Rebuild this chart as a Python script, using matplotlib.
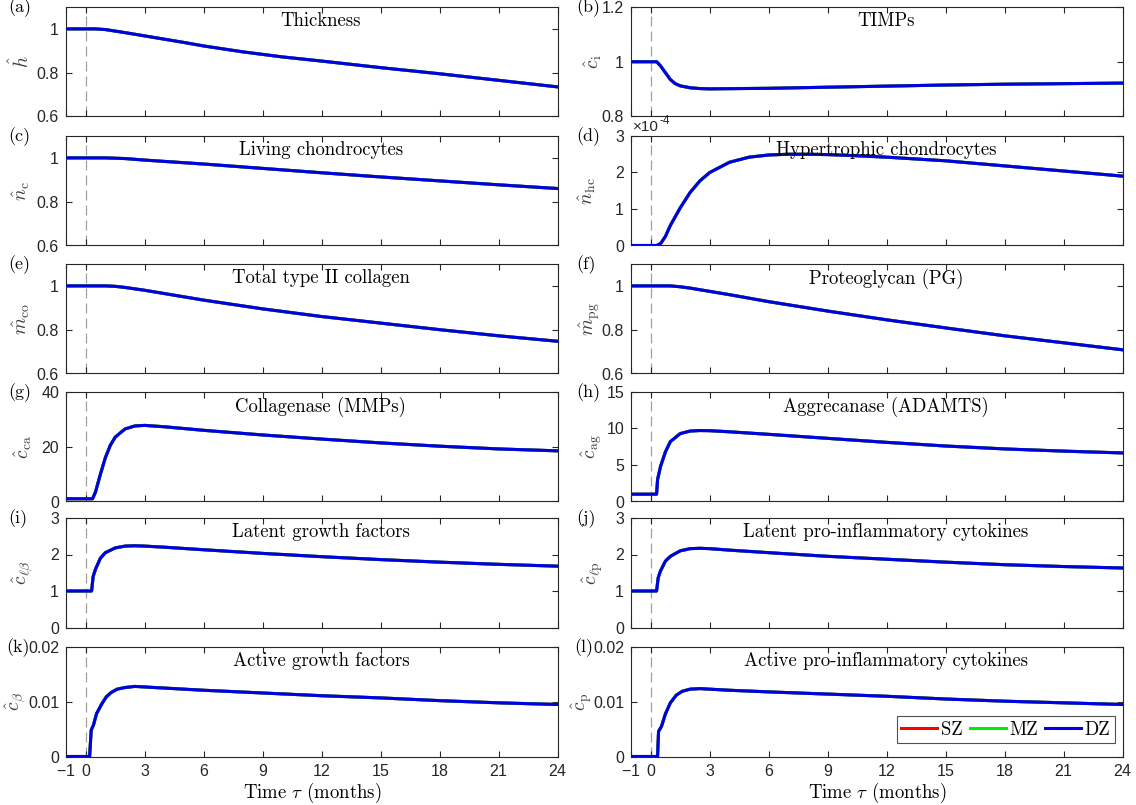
import matplotlib
matplotlib.use("Agg")
import matplotlib.pyplot as plt
from matplotlib.ticker import FixedLocator, FormatStrFormatter

plt.rcParams['font.family'] = ['Liberation Sans', 'DejaVu Sans']
plt.rcParams['mathtext.fontset'] = 'cm'
plt.rcParams['axes.unicode_minus'] = False
plt.rcParams['axes.formatter.use_mathtext'] = True

# ---------------- data ----------------
zones = ['SZ', 'MZ', 'DZ']
zone_colors = ['#ff0000', '#00ee00', '#0000e6']

t_a = [-1, 0, 0.5, 1, 1.5, 2, 3, 4, 5, 6, 8, 10, 12, 15, 18, 21, 24]
thickness = [1, 1, 1, 0.997, 0.99, 0.983, 0.968, 0.953, 0.938, 0.922, 0.895, 0.872, 0.853, 0.823, 0.795, 0.765, 0.735]

t_b = [-1, 0, 0.3, 0.5, 0.75, 1, 1.25, 1.5, 2, 2.5, 3, 6, 9, 12, 15, 18, 21, 24]
timps = [1, 1, 1, 0.985, 0.96, 0.935, 0.92, 0.912, 0.905, 0.902, 0.901, 0.903, 0.907, 0.911, 0.915, 0.918, 0.92, 0.922]

t_c = [-1, 0, 0.5, 1, 2, 3, 6, 9, 12, 15, 18, 21, 24]
living = [1, 1, 1, 1, 0.997, 0.99, 0.972, 0.952, 0.932, 0.913, 0.895, 0.877, 0.86]

t_d = [-1, 0, 0.3, 0.5, 0.75, 1, 1.5, 2, 2.5, 3, 4, 5, 6, 7, 8, 9, 10, 12, 15, 18, 21, 24]
hypertrophic = [0, 0, 0, 0.05, 0.25, 0.55, 1.03, 1.45, 1.77, 2.0, 2.28, 2.42, 2.48, 2.5, 2.5, 2.49, 2.47, 2.42, 2.32, 2.18, 2.04, 1.9]  # x 1e-4

t_ef = [-1, 0, 0.5, 1, 1.5, 2, 3, 4, 6, 9, 12, 15, 18, 21, 24]
collagen = [1, 1, 1, 1, 0.998, 0.993, 0.98, 0.965, 0.935, 0.895, 0.86, 0.83, 0.8, 0.772, 0.747]
proteoglycan = [1, 1, 1, 1, 0.996, 0.99, 0.975, 0.96, 0.928, 0.885, 0.845, 0.808, 0.772, 0.74, 0.708]

t_g = [-1, 0, 0.35, 0.5, 0.75, 1, 1.25, 1.5, 2, 2.5, 3, 4, 6, 9, 12, 15, 18, 21, 24]
collagenase = [1, 1, 1, 3.5, 10, 16, 20.5, 23.5, 26.5, 27.6, 27.8, 27.3, 26, 24.3, 22.8, 21.4, 20.2, 19.2, 18.5]

t_h = [-1, 0, 0.3, 0.35, 0.5, 0.75, 1, 1.5, 2, 2.5, 3, 4, 6, 9, 12, 15, 18, 21, 24]
aggrecanase = [1, 1, 1, 3.0, 4.8, 6.8, 8.2, 9.3, 9.65, 9.72, 9.7, 9.55, 9.2, 8.65, 8.1, 7.6, 7.2, 6.9, 6.65]

t_ij = [-1, 0, 0.3, 0.38, 0.5, 0.75, 1, 1.5, 2, 2.5, 3, 4, 6, 9, 12, 15, 18, 21, 24]
latent_gf = [1, 1, 1, 1.4, 1.6, 1.9, 2.05, 2.18, 2.23, 2.24, 2.23, 2.2, 2.13, 2.03, 1.94, 1.86, 1.79, 1.73, 1.68]
latent_pic = [1, 1, 1, 1.36, 1.55, 1.82, 1.95, 2.1, 2.16, 2.17, 2.16, 2.12, 2.05, 1.95, 1.87, 1.79, 1.72, 1.67, 1.63]

t_k = [-1, 0, 0.2, 0.28, 0.4, 0.55, 0.8, 1.05, 1.3, 1.6, 2, 2.5, 3, 4, 6, 9, 12, 15, 18, 21, 24]
active_gf = [0, 0, 0, 0.0048, 0.0058, 0.0078, 0.0095, 0.0109, 0.0117, 0.0123, 0.0126, 0.0128, 0.0127, 0.0125, 0.0121, 0.0116, 0.0111, 0.0107, 0.0102, 0.0098, 0.0095]

t_l = [-1, 0, 0.35, 0.4, 0.55, 0.75, 1, 1.3, 1.6, 2, 2.5, 3, 4, 6, 9, 12, 15, 18, 21, 24]
active_pic = [0, 0, 0, 0.0046, 0.0055, 0.0078, 0.0098, 0.0112, 0.0119, 0.0123, 0.0124, 0.0123, 0.0121, 0.0118, 0.0114, 0.011, 0.0105, 0.0101, 0.0098, 0.0095]

titles = ['Thickness', 'TIMPs', 'Living chondrocytes', 'Hypertrophic chondrocytes',
          'Total type II collagen', 'Proteoglycan (PG)', 'Collagenase (MMPs)',
          'Aggrecanase (ADAMTS)', 'Latent growth factors',
          'Latent pro-inflammatory cytokines', 'Active growth factors',
          'Active pro-inflammatory cytokines']
ylabels = [r'$\hat{h}$', r'$\hat{c}_{\mathrm{i}}$', r'$\hat{n}_{\mathrm{c}}$', r'$\hat{n}_{\mathrm{hc}}$',
           r'$\hat{m}_{\mathrm{co}}$', r'$\hat{m}_{\mathrm{pg}}$', r'$\hat{c}_{\mathrm{ca}}$',
           r'$\hat{c}_{\mathrm{ag}}$', r'$\hat{c}_{\ell\beta}$', r'$\hat{c}_{\ell\mathrm{p}}$',
           r'$\hat{c}_{\beta}$', r'$\hat{c}_{\mathrm{p}}$']
panel_letters = ['(a)', '(b)', '(c)', '(d)', '(e)', '(f)', '(g)', '(h)', '(i)', '(j)', '(k)', '(l)']
series_t = [t_a, t_b, t_c, t_d, t_ef, t_ef, t_g, t_h, t_ij, t_ij, t_k, t_l]
series_v = [thickness, timps, living, hypertrophic, collagen, proteoglycan,
            collagenase, aggrecanase, latent_gf, latent_pic, active_gf, active_pic]
ylims = [(0.6, 1.1), (0.8, 1.2), (0.6, 1.1), (0, 3), (0.6, 1.1), (0.6, 1.1),
         (0, 40), (0, 15), (0, 3), (0, 3), (0, 0.02), (0, 0.02)]
yticks = [[0.6, 0.8, 1], [0.8, 1, 1.2], [0.6, 0.8, 1], [0, 1, 2, 3], [0.6, 0.8, 1], [0.6, 0.8, 1],
          [0, 20, 40], [0, 5, 10, 15], [0, 1, 2, 3], [0, 1, 2, 3], [0, 0.01, 0.02], [0, 0.01, 0.02]]
yfmts = ['%g'] * 12
xticks = [-1, 0, 3, 6, 9, 12, 15, 18, 21, 24]
xlim = (-1, 24)

# ---------------- layout (pixels) ----------------
W, H = 1136, 805
fig = plt.figure(figsize=(W / 100, H / 100), dpi=100)
col_x0 = [66, 631]
col_w = [492, 492]
row_top = [7, 136, 264, 392, 518, 647]
row_h = 109.5
ylabel_xc = [21, 593, 21, 587, 21, 590, 23, 592, 23, 593, 16, 582]
letter_x = [8, 576]
dark = '#262626'

axes = []
for i in range(12):
    r, c = divmod(i, 2)
    x0 = col_x0[c]
    w = col_w[c]
    top = row_top[r]
    ax = fig.add_axes([x0 / W, 1 - (top + row_h) / H, w / W, row_h / H])
    axes.append(ax)
    ax.axvline(0, color='#a0a0a0', lw=0.9, ls=(0, (8, 4)), zorder=1)
    for z, col in zip(zones, zone_colors):
        ax.plot(series_t[i], series_v[i], color=col, lw=2.2, label=z, zorder=3)
    ax.set_xlim(*xlim)
    ax.set_ylim(*ylims[i])
    ax.xaxis.set_major_locator(FixedLocator(xticks))
    ax.yaxis.set_major_locator(FixedLocator(yticks[i]))
    ax.yaxis.set_major_formatter(FormatStrFormatter(yfmts[i]))
    ax.tick_params(direction='in', top=True, right=True, length=4, width=0.8,
                   colors=dark, labelsize=11.5, pad=5)
    ax.tick_params(axis='x', pad=5)
    if r < 5:
        ax.tick_params(labelbottom=False)
    for s in ax.spines.values():
        s.set_color(dark)
        s.set_linewidth(0.8)
    ax.text(0.518, 0.955, titles[i], transform=ax.transAxes, ha='center', va='top',
            fontsize=13.5, fontfamily='cmr10', color='black')
    yl = ax.set_ylabel(ylabels[i], fontsize=14, color='#404040')
    yl.set_rotation_mode('default')
    yl.set_va('center')
    ax.yaxis.set_label_coords((ylabel_xc[i] - x0) / w, 0.5)
    lx = letter_x[c] - (2 if r == 5 else 0)
    fig.text(lx / W, 1 - (top + 1) / H, panel_letters[i], ha='left', va='center',
             fontsize=13, fontfamily='cmr10')
    if r == 5:
        ax.set_xlabel(r'Time $\tau$ (months)', fontsize=13.5, fontfamily='cmr10', labelpad=1)

# offset text for (d)
fig.text(633 / W, 1 - 127 / H, '\u00d710', ha='left', va='center', fontsize=11, color=dark)
fig.text(660 / W, 1 - 121 / H, '-4', ha='left', va='center', fontsize=8.5, color=dark)

# legend in (l)
axl = axes[11]
leg = axl.legend(loc='lower right', bbox_to_anchor=(0.984, 0.12), ncol=3, frameon=True,
                 fancybox=False, edgecolor='#262626', borderaxespad=0,
                 prop={'family': 'cmr10', 'size': 13.5}, handlelength=1.9,
                 handletextpad=0.2, columnspacing=0.4, borderpad=0.25)
leg.get_frame().set_linewidth(0.8)

fig.savefig('out.png', dpi=100)
